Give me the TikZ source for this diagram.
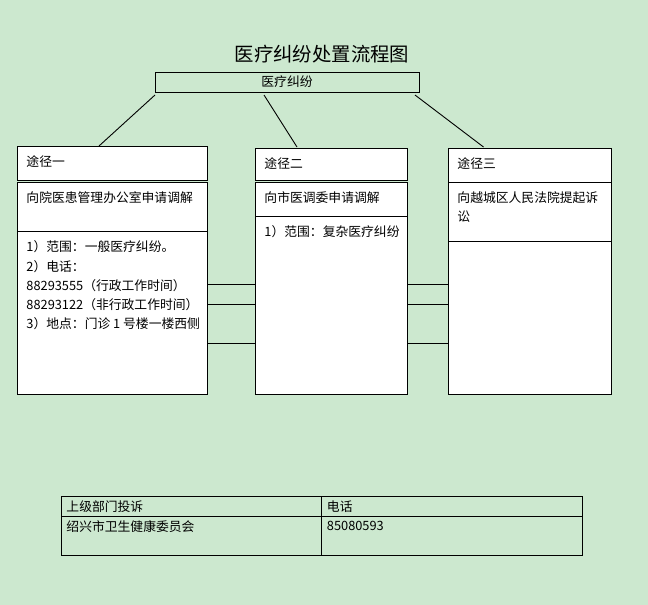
\documentclass[tikz,border=0pt]{standalone}
\usepackage{fontspec}
\newfontfamily\cjk{Noto Sans CJK SC}
\usetikzlibrary{positioning, calc}
\definecolor{eyegreen}{RGB}{204,232,207}

\begin{document}
\begin{tikzpicture}[
    x=1pt, y=-1pt,
    font=\cjk\fontsize{12.8}{19.1}\selectfont,
    line width=0.9pt,
    sect/.style={rectangle, draw, fill=white, anchor=north west, inner sep=0pt, outer sep=0pt, label={[anchor=north west, align=left, inner xsep=9pt, inner ysep=9.5pt]north west:#1}},
    cell/.style={rectangle, draw, anchor=north west, inner sep=0pt, outer sep=0pt, minimum width=260.5pt, label={[anchor=north west, inner xsep=5pt, inner ysep=4.5pt]north west:#1}},
    line/.style={draw}
]

    % Background
    \fill [eyegreen] (0,0) rectangle (648,605);
    \useasboundingbox (0,0) rectangle (648,605);

    % Nodes
    \node [font=\cjk\fontsize{19.4}{22}\selectfont] (title) at (322,54) {医疗纠纷处置流程图};
    \node [rectangle, draw, minimum width=264pt, minimum height=20pt, inner sep=0pt, outer sep=0pt] (root) at (287,82) {医疗纠纷};

    \node [sect={途径一}, minimum width=190pt, minimum height=34pt] (r1head) at (17,146) {};
    \node [sect={向院医患管理办公室申请调解}, minimum width=190pt, minimum height=49pt] (r1mid) at ([yshift=-2pt]r1head.south west) {};
    \node [sect={1）范围：一般医疗纠纷。\\2）电话：\\88293555（行政工作时间）\\88293122（非行政工作时间）\\3）地点：门诊 1 号楼一楼西侧}, minimum width=190pt, minimum height=163pt] (r1body) at (r1mid.south west) {};

    \node [sect={途径二}, minimum width=152pt, minimum height=32pt] (r2head) at (255,148) {};
    \node [sect={向市医调委申请调解}, minimum width=152pt, minimum height=34pt] (r2mid) at ([yshift=-2pt]r2head.south west) {};
    \node [sect={1）范围：复杂医疗纠纷}, minimum width=152pt, minimum height=178pt] (r2body) at (r2mid.south west) {};

    \node [sect={途径三}, minimum width=163pt, minimum height=34pt] (r3head) at (448,148) {};
    \node [sect={向越城区人民法院提起诉\\讼}, minimum width=163pt, minimum height=59pt] (r3mid) at (r3head.south west) {};
    \node [sect={}, minimum width=163pt, minimum height=153pt] (r3body) at (r3mid.south west) {};

    \node [cell={上级部门投诉}, minimum height=20pt] (c11) at (61,496) {};
    \node [cell={电话}, minimum height=20pt] (c12) at (c11.north east) {};
    \node [cell={绍兴市卫生健康委员会}, minimum height=39pt] (c21) at (c11.south west) {};
    \node [cell={85080593}, minimum height=39pt] (c22) at (c21.north east) {};

    % Connections
    \path [line] ([yshift=-3pt]root.south west) -- ([xshift=-13pt]r1head.north);
    \path [line] ([xshift=-23pt, yshift=-3pt]root.south) -- ([xshift=-34pt, yshift=1pt]r2head.north);
    \path [line] ([xshift=-4pt, yshift=-3pt]root.south east) -- ([xshift=-46pt, yshift=1pt]r3head.north);

    \foreach \y in {284,304,343} {
        \path [line] (r1body.east |- 0,\y) -- (r2body.west |- 0,\y);
        \path [line] (r2body.east |- 0,\y) -- (r3body.west |- 0,\y);
    }

\end{tikzpicture}
\end{document}
